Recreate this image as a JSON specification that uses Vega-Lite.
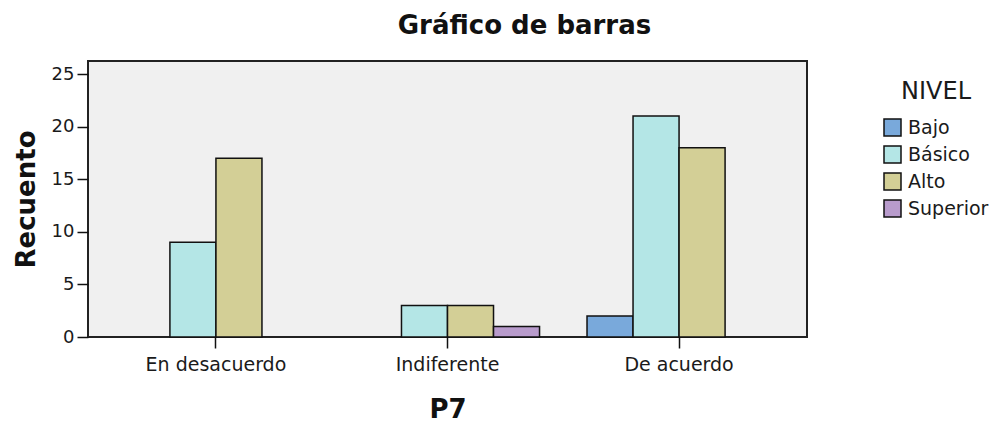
{
  "$schema": "https://vega.github.io/schema/vega-lite/v6.json",
  "autosize": "none",
  "width": 719,
  "height": 276,
  "padding": {"left": 88, "top": 61, "right": 186, "bottom": 86},
  "background": "white",
  "title": {
    "text": "Gráfico de barras",
    "font": "DejaVu Sans",
    "fontSize": 26,
    "fontWeight": "bold",
    "color": "#111111",
    "anchor": "middle",
    "dx": 77,
    "offset": 22
  },
  "data": {
    "values": [
      {"P7": "En desacuerdo", "NIVEL": "Básico", "Recuento": 9},
      {"P7": "En desacuerdo", "NIVEL": "Alto", "Recuento": 17},
      {"P7": "Indiferente", "NIVEL": "Básico", "Recuento": 3},
      {"P7": "Indiferente", "NIVEL": "Alto", "Recuento": 3},
      {"P7": "Indiferente", "NIVEL": "Superior", "Recuento": 1},
      {"P7": "De acuerdo", "NIVEL": "Bajo", "Recuento": 2},
      {"P7": "De acuerdo", "NIVEL": "Básico", "Recuento": 21},
      {"P7": "De acuerdo", "NIVEL": "Alto", "Recuento": 18}
    ]
  },
  "mark": {"type": "bar", "stroke": "#111111", "strokeWidth": 1.5, "opacity": 1},
  "encoding": {
    "x": {
      "field": "P7",
      "type": "nominal",
      "sort": ["En desacuerdo", "Indiferente", "De acuerdo"],
      "scale": {"paddingInner": 0.205, "paddingOuter": 0.155},
      "axis": {
        "title": "P7",
        "labelAngle": 0,
        "labelFont": "DejaVu Sans",
        "labelFontSize": 19,
        "labelColor": "#1a1a1a",
        "labelPadding": 7,
        "tickSize": 11,
        "tickColor": "#111111",
        "tickWidth": 1.5,
        "domain": false,
        "titleFont": "DejaVu Sans",
        "titleFontSize": 26,
        "titleFontWeight": "bold",
        "titleColor": "#111111",
        "titlePadding": 22
      }
    },
    "xOffset": {
      "field": "NIVEL",
      "type": "nominal",
      "scale": {"domain": ["Bajo", "Básico", "Alto", "Superior"], "paddingInner": 0, "paddingOuter": 0}
    },
    "y": {
      "field": "Recuento",
      "type": "quantitative",
      "scale": {"domain": [0, 26.24], "nice": false, "zero": true},
      "axis": {
        "title": "Recuento",
        "values": [0, 5, 10, 15, 20, 25],
        "grid": false,
        "domain": false,
        "labelFont": "DejaVu Sans",
        "labelFontSize": 18,
        "labelColor": "#1a1a1a",
        "labelPadding": 3,
        "tickSize": 11,
        "tickColor": "#111111",
        "tickWidth": 1.5,
        "titleFont": "DejaVu Sans",
        "titleFontSize": 26,
        "titleFontWeight": "bold",
        "titleColor": "#111111",
        "titlePadding": 12
      }
    },
    "color": {
      "field": "NIVEL",
      "type": "nominal",
      "scale": {
        "domain": ["Bajo", "Básico", "Alto", "Superior"],
        "range": ["#79a9db", "#b4e6e6", "#d3cf96", "#b89bcc"]
      },
      "legend": {
        "title": "NIVEL",
        "orient": "none",
        "legendX": 795,
        "legendY": 19,
        "titleFont": "DejaVu Sans",
        "titleFontSize": 24,
        "titleFontWeight": "normal",
        "titleColor": "#1a1a1a",
        "titleAnchor": "middle",
        "titlePadding": 14,
        "labelFont": "DejaVu Sans",
        "labelFontSize": 19,
        "labelColor": "#1a1a1a",
        "labelOffset": 6,
        "symbolType": "square",
        "symbolSize": 289,
        "symbolStrokeColor": "#111111",
        "symbolStrokeWidth": 1.5,
        "symbolOpacity": 1,
        "rowPadding": 4
      }
    }
  },
  "config": {
    "view": {"fill": "#f0f0f0", "stroke": "#222222", "strokeWidth": 2}
  }
}
